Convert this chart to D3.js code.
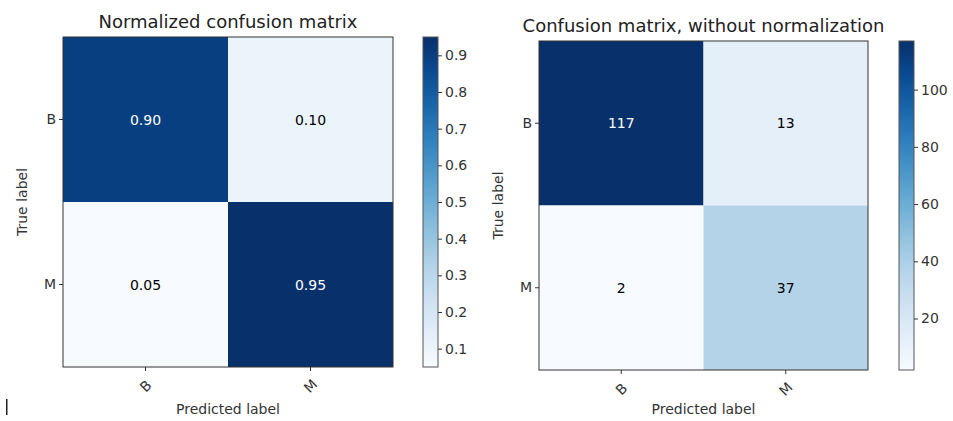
<!DOCTYPE html>
<html>
<head>
<meta charset="utf-8">
<script src="https://cdn.jsdelivr.net/npm/d3@7"></script>
<style>
  body { margin: 0; background: #fff; }
  svg { font-family: "DejaVu Sans", sans-serif; }
</style>
</head>
<body>
<svg id="chart" width="953" height="421"></svg>
<script>
// data
const classes = ["B", "M"];
const countValues = [[117, 13], [2, 37]];
const normValues = [[0.90, 0.10], [0.05, 0.95]];
const normTicks = [0.1, 0.2, 0.3, 0.4, 0.5, 0.6, 0.7, 0.8, 0.9];
const countTicks = [20, 40, 60, 80, 100];

const svg = d3.select("#chart");
const FONT = "DejaVu Sans, sans-serif";

const drawMatrix = function (opts) {
  const { values, title, left, top, size, cbLeft, cbTicks, fmt, tickFmt } = opts;
  const flat = values.flat();
  const vmin = d3.min(flat), vmax = d3.max(flat);
  const color = d3.scaleSequential(d3.interpolateBlues).domain([vmin, vmax]);
  const thresh = vmax / 2;

  const x = d3.scaleBand().domain(classes).range([left, left + size]);
  const y = d3.scaleBand().domain(classes).range([top, top + size]);

  const g = svg.append("g");
  const cells = [];
  values.forEach((row, i) => row.forEach((v, j) => cells.push({ t: classes[i], p: classes[j], v })));

  g.selectAll("rect.cell")
    .data(cells)
    .join("rect")
    .attr("class", "cell")
    .attr("x", (d) => x(d.p))
    .attr("y", (d) => y(d.t))
    .attr("width", x.bandwidth())
    .attr("height", y.bandwidth())
    .attr("fill", (d) => color(d.v));

  g.selectAll("text.val")
    .data(cells)
    .join("text")
    .attr("class", "val")
    .attr("x", (d) => x(d.p) + x.bandwidth() / 2)
    .attr("y", (d) => y(d.t) + y.bandwidth() / 2)
    .attr("text-anchor", "middle")
    .attr("dominant-baseline", "central")
    .attr("font-size", 14)
    .attr("fill", (d) => (d.v > thresh ? "#fff" : "#000"))
    .text((d) => fmt(d.v));

  // frame
  g.append("rect")
    .attr("x", left).attr("y", top)
    .attr("width", size).attr("height", size)
    .attr("fill", "none").attr("stroke", "#333").attr("stroke-width", 1);

  // axes
  const xAxis = g.append("g")
    .attr("transform", `translate(0,${top + size})`)
    .call(d3.axisBottom(x).tickSize(4).tickSizeOuter(0))
    .attr("font-family", FONT).attr("font-size", 14)
    .call((a) => a.select(".domain").remove());
  xAxis.selectAll("text")
    .attr("fill", "#333")
    .attr("text-anchor", "middle")
    .attr("dy", null).attr("y", 0)
    .attr("dominant-baseline", "central")
    .attr("transform", "translate(0,19) rotate(-45)");
  xAxis.selectAll("line").attr("stroke", "#333");

  const yAxis = g.append("g")
    .attr("transform", `translate(${left},0)`)
    .call(d3.axisLeft(y).tickSize(4).tickSizeOuter(0))
    .attr("font-family", FONT).attr("font-size", 14)
    .call((a) => a.select(".domain").remove());
  yAxis.selectAll("text").attr("fill", "#333");
  yAxis.selectAll("line").attr("stroke", "#333");

  g.append("text")
    .attr("x", left + size / 2).attr("y", top - 9)
    .attr("text-anchor", "middle").attr("font-size", 18).attr("fill", "#222")
    .text(title);
  g.append("text")
    .attr("x", left + size / 2).attr("y", 414)
    .attr("text-anchor", "middle").attr("font-size", 14).attr("fill", "#333")
    .text("Predicted label");
  g.append("text")
    .attr("transform", `translate(${left - 36},${top + size / 2}) rotate(-90)`)
    .attr("text-anchor", "middle").attr("font-size", 14).attr("fill", "#333")
    .text("True label");

  // colorbar
  const cbW = 15;
  const cy = d3.scaleLinear().domain([vmin, vmax]).range([top + size, top]);
  const gradId = "grad" + Math.round(left);
  const grad = svg.append("defs").append("linearGradient")
    .attr("id", gradId).attr("x1", 0).attr("y1", 1).attr("x2", 0).attr("y2", 0);
  d3.range(0, 1.001, 0.1).forEach((t) => {
    grad.append("stop").attr("offset", t).attr("stop-color", d3.interpolateBlues(t));
  });
  g.append("rect")
    .attr("x", cbLeft).attr("y", top)
    .attr("width", cbW).attr("height", size)
    .attr("fill", `url(#${gradId})`)
    .attr("stroke", "#555").attr("stroke-width", 1);
  const cAxis = g.append("g")
    .attr("transform", `translate(${cbLeft + cbW},0)`)
    .call(d3.axisRight(cy).tickValues(cbTicks).tickFormat(tickFmt).tickSize(4))
    .attr("font-family", FONT).attr("font-size", 14)
    .call((a) => a.select(".domain").remove());
  cAxis.selectAll("text").attr("fill", "#333");
  cAxis.selectAll("line").attr("stroke", "#333");
};

drawMatrix({
  values: normValues,
  title: "Normalized confusion matrix",
  left: 63, top: 37, size: 330,
  cbLeft: 423,
  cbTicks: normTicks,
  fmt: d3.format(".2f"),
  tickFmt: d3.format(".1f"),
});

drawMatrix({
  values: countValues,
  title: "Confusion matrix, without normalization",
  left: 539, top: 41, size: 329,
  cbLeft: 899,
  cbTicks: countTicks,
  fmt: d3.format("d"),
  tickFmt: d3.format("d"),
});

// stray cursor mark at bottom left
svg.append("rect").attr("x", 6).attr("y", 399).attr("width", 1.5).attr("height", 16).attr("fill", "#222");
</script>
</body>
</html>
